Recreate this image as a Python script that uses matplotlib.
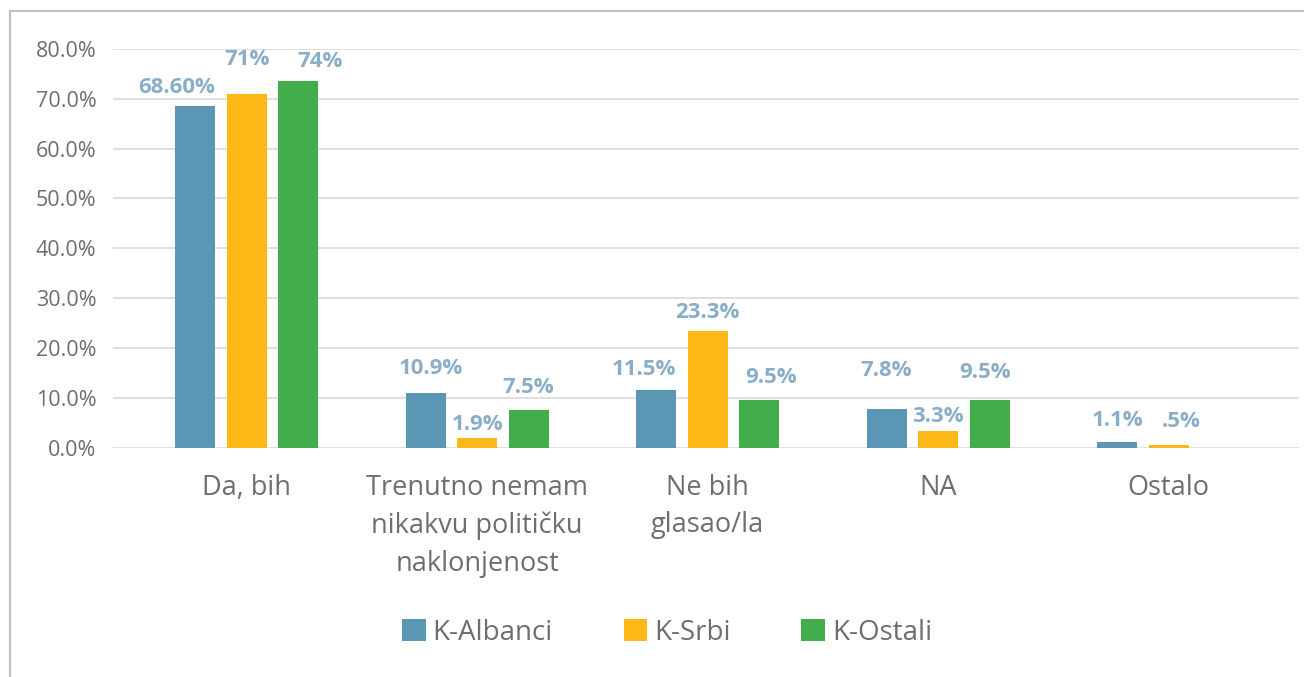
import matplotlib
matplotlib.use("Agg")
import matplotlib.pyplot as plt
import numpy as np
from matplotlib.lines import Line2D

categories = ["Da, bih", "Trenutno nemam\nnikakvu političku\nnaklonjenost", "Ne bih\nglasao/la", "NA", "Ostalo"]
series_names = ["K-Albanci", "K-Srbi", "K-Ostali"]
albanci = [68.6, 10.9, 11.5, 7.8, 1.1]
srbi = [71.0, 1.9, 23.3, 3.3, 0.5]
ostali = [73.5, 7.5, 9.5, 9.5, 0.0]
albanci_labels = ["68.60%", "10.9%", "11.5%", "7.8%", "1.1%"]
srbi_labels = ["71%", "1.9%", "23.3%", "3.3%", ".5%"]
ostali_labels = ["74%", "7.5%", "9.5%", "9.5%", ""]
yticks = [0, 10, 20, 30, 40, 50, 60, 70, 80]
ytick_labels = ["0.0%", "10.0%", "20.0%", "30.0%", "40.0%", "50.0%", "60.0%", "70.0%", "80.0%"]

# label nudges (pixels: dx, dy above bar top)
nudge_albanci = [(-19, 18), (5, 25), (-12, 21), (-1, 38), (0, 22)]
nudge_srbi = [(0, 34), (0, 14), (0, 19), (0, 15), (12, 24)]
nudge_ostali = [(22, 20), (-1, 23), (12, 23), (-5, 28), (0, 20)]

colors = ["#5b96b5", "#fbb817", "#41ae4b"]
label_color = "#8aaec8"
text_color = "#6d6e71"
grid_color = "#d9d9d9"

plt.rcParams["font.family"] = ["Open Sans", "DejaVu Sans"]

W, H = 1304, 677
dpi = 100
fig = plt.figure(figsize=(W / dpi, H / dpi), dpi=dpi)
ax = fig.add_axes([113 / W, 1 - 447.5 / H, (1299 - 113) / W, (447.5 - 49) / H])

x = np.arange(len(categories))
step = 51.5 / 230.5
width = 40 / 230.5
data = [albanci, srbi, ostali]
labels = [albanci_labels, srbi_labels, ostali_labels]
nudges = [nudge_albanci, nudge_srbi, nudge_ostali]
px2pt = 72 / dpi
for i, (vals, labs, nud) in enumerate(zip(data, labels, nudges)):
    pos = x + (i - 1) * step
    ax.bar(pos, vals, width=width, color=colors[i], label=series_names[i], zorder=3)
    for p, v, lab, (dx, dy) in zip(pos, vals, labs, nud):
        if lab:
            ax.annotate(lab, xy=(p, v), xytext=(dx * px2pt, dy * px2pt),
                        textcoords="offset points", ha="center", va="center",
                        fontsize=16, fontweight="bold", color=label_color, zorder=4)

ax.set_xlim(-0.58, 4.565)
ax.set_ylim(0, 80)
ax.set_yticks(yticks)
ax.set_yticklabels(ytick_labels)
ax.set_xticks(x)
ax.set_xticklabels(categories, linespacing=1.45)
ax.tick_params(axis="y", length=0, pad=12, labelsize=15.5, labelcolor=text_color)
ax.tick_params(axis="x", length=0, pad=19, labelsize=19.5, labelcolor=text_color)
for s in ax.spines.values():
    s.set_visible(False)
ax.grid(axis="y", color=grid_color, linewidth=1.2, zorder=0)
ax.set_axisbelow(True)

leg = fig.legend(loc="center", bbox_to_anchor=(667 / W, 1 - 633 / H), ncol=3, frameon=False,
                 fontsize=20, handlelength=0.85, handleheight=0.85, handletextpad=0.25,
                 columnspacing=2.55, labelcolor=text_color)

# outer frame (left and top edges)
fig.add_artist(Line2D([10 / W, 10 / W], [0, 1 - 11 / H], color="#c0c0c0", linewidth=1.6,
                      transform=fig.transFigure))
fig.add_artist(Line2D([10 / W, 1], [1 - 11 / H, 1 - 11 / H], color="#c0c0c0", linewidth=1.6,
                      transform=fig.transFigure))

fig.savefig("out.png", dpi=dpi, facecolor="white")
